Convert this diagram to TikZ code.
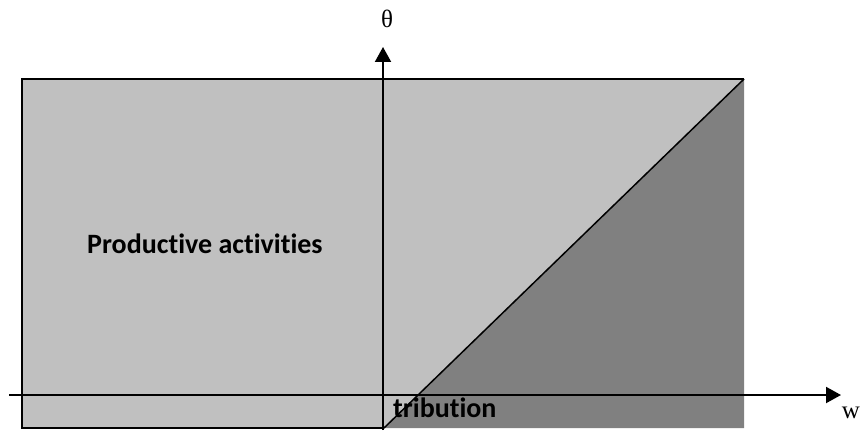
\documentclass[tikz,border=0pt]{standalone}
\usepackage{fontspec}
\setmainfont{Liberation Serif}
\newfontfamily\carlitofont[Ligatures=NoCommon]{Carlito}
\usetikzlibrary{arrows.meta}
\definecolor{lightg}{HTML}{C0C0C0}
\definecolor{darkg}{HTML}{808080}
\tikzset{
  axis/.style={line width=2pt,-{Triangle[length=15pt,width=16pt]}},
  border/.style={line width=2pt},
  lbl/.style={inner sep=0pt,font=\carlitofont\bfseries\fontsize{28}{32}\selectfont},
  axlbl/.style={inner sep=0pt,font=\fontsize{25}{29}\selectfont}
}
\begin{document}
\begin{tikzpicture}[x=1pt,y=-1pt]
\useasboundingbox (0,0) rectangle (861,433);
\coordinate (tl) at (22,79);
\coordinate (tr) at (744,79);
\coordinate (br) at (744,428);
\coordinate (bl) at (22,428);
\coordinate (dl) at (384,428);
\coordinate (ab) at (383,430);
\coordinate (at) at (383,47);
\coordinate (hl) at (9,395);
\coordinate (hr) at (841,395);
\fill[lightg] (tl) -- (tr) -- (dl) -- (bl) -- cycle;
\fill[darkg] (tr) -- (br) -- (dl) -- cycle;
\draw[border] (dl) -- (bl) -- (tl) -- (tr);
\draw[line width=1.5pt] (tr) -- (dl);
\node[lbl,anchor=base west] (prod) at (87,253) {Productive activities};
\node[lbl,anchor=base west] (redis) at (393,417) {tribution};
\draw[axis] (ab) -- (at);
\draw[axis] (hl) -- (hr);
\node[axlbl,anchor=base] (theta) at (387,28) {θ};
\node[axlbl,anchor=base] (w) at (851,418) {w};
\end{tikzpicture}
\end{document}
